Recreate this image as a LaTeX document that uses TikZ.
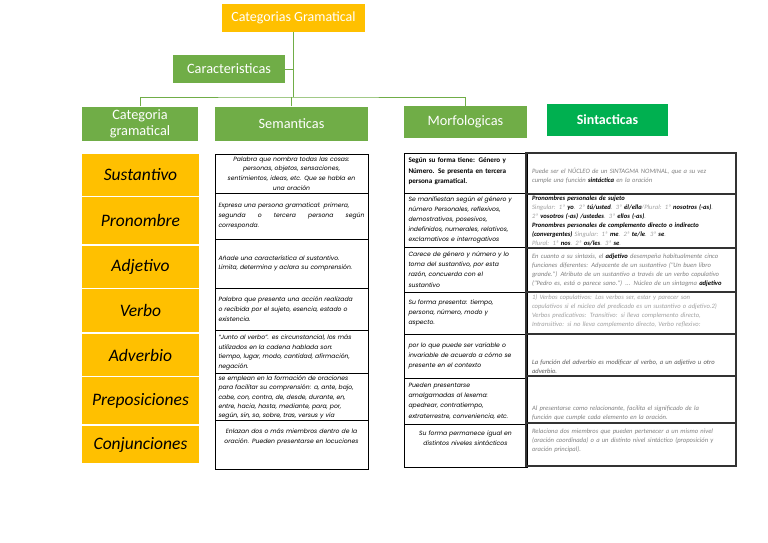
\documentclass[tikz,border=0pt]{standalone}
\usepackage{fontspec}
\setmainfont{Carlito}
\newfontfamily\cellfont{Poppins}
\usepackage{xcolor}
\usepackage{tikz}
\usetikzlibrary{positioning}
\definecolor{catorange}{RGB}{255,192,0}
\definecolor{catgreen}{RGB}{112,173,71}
\definecolor{sintgreen}{RGB}{0,176,80}
\definecolor{sintgray}{RGB}{128,128,128}
\definecolor{palegray}{RGB}{160,160,160}
\definecolor{deepgray}{RGB}{89,89,89}
\newcommand{\sinbold}[1]{\textcolor{black}{\textbf{#1}}}

\begin{document}
\begin{tikzpicture}[
  x=1pt, y=-1pt,
  titlebox/.style={rectangle, fill=catorange, text=white, inner sep=0pt,
    font=\fontsize{14}{16}\selectfont},
  headbox/.style={rectangle, fill=catgreen, text=white, inner sep=0pt, align=center,
    font=\fontsize{14.3}{16}\selectfont},
  catbox/.style={rectangle, fill=catorange, minimum width=117pt, inner sep=0pt,
    font=\fontsize{17.5}{20}\selectfont\itshape},
  semcell/.style={rectangle, draw=black, line width=1pt, minimum width=153pt, inner sep=0pt},
  morcell/.style={rectangle, draw=black, line width=1pt, minimum width=123pt, inner sep=0pt},
  sincell/.style={rectangle, draw=black!80, line width=1.1pt, minimum width=210pt, inner sep=0pt},
  semtext/.style={text width=146pt, inner sep=0pt, align=left,
    font=\cellfont\itshape\fontsize{6.1}{9.7}\selectfont},
  mortext/.style={text width=114pt, inner sep=0pt, align=left,
    font=\cellfont\itshape\fontsize{6.1}{10.2}\selectfont},
  sintext/.style={text width=198pt, inner sep=0pt, align=left, text=sintgray,
    font=\itshape\fontsize{6.6}{8.9}\selectfont},
  link/.style={draw=catgreen, line width=0.9pt}
]
\useasboundingbox (0,0) rectangle (768,543);
\fill[white] (0,0) rectangle (768,543);

% top of the tree
\node[titlebox, minimum width=143pt, minimum height=28pt] (cat) at (293.5,18) {Categorias Gramatical};
\node[headbox, minimum width=112pt, minimum height=27pt] (carac) at (229,69) {Caracteristicas};
\coordinate (bar) at (294,97);

\node[headbox, minimum width=116pt, minimum height=34pt] (catg) at (140,123.5) {Categoria\\gramatical};
\node[headbox, minimum width=153pt, minimum height=34pt] (sem) at (291.5,123.5) {Semanticas};
\node[headbox, minimum width=123pt, minimum height=32pt] (morf) at (465.5,122) {Morfologicas};
\node[headbox, fill=sintgreen, minimum width=121pt, minimum height=32pt,
  font=\fontsize{14}{16}\selectfont\bfseries] (sint) at (607.5,120) {Sintacticas};

\draw[link] (cat.south) -- (cat.south |- bar);
\draw[link] (carac.east) -- (carac.east -| cat.south);
\draw[link] (catg.north) |- (bar) -| (morf.north);
\draw[link] (sem.north) -- (sem.north |- bar);

% categories
\node[catbox, minimum height=42pt] (sus) at (140.5,175) {Sustantivo};
\node[catbox, minimum height=47pt] (pron) at (140.5,220.5) {Pronombre};
\node[catbox, minimum height=42pt] (adj) at (140.5,267) {Adjetivo};
\node[catbox, minimum height=43pt] (verb) at (140.5,310.5) {Verbo};
\node[catbox, minimum height=42pt] (adv) at (140.5,355) {Adverbio};
\node[catbox, minimum height=47pt] (prep) at (140.5,400.5) {Preposiciones};
\node[catbox, minimum height=37pt] (conj) at (140.5,444.5) {Conjunciones};

% semanticas
\node[semcell, minimum height=39pt] (sem1) at (291.5,173.5) {};
\node[semcell, minimum height=46pt] (sem2) at (291.5,216) {};
\node[semcell, minimum height=49pt] (sem3) at (291.5,263.5) {};
\node[semcell, minimum height=42pt] (sem4) at (291.5,309) {};
\node[semcell, minimum height=43pt] (sem5) at (291.5,351.5) {};
\node[semcell, minimum height=47pt] (sem6) at (291.5,396.5) {};
\node[semcell, minimum height=49pt] (sem7) at (291.5,444.5) {};

\node[semtext, align=center] (semt1) at (sem1) {Palabra que nombra todas las cosas:\\personas, objetos, sensaciones,\\sentimientos, ideas, etc. Que se habla en\\una oración};
\node[semtext] (semt2) at (sem2) {Expresa una persona gramatical: primera,\\segunda \hfill o \hfill tercera \hfill persona \hfill según\\corresponda.};
\node[semtext] (semt3) at (sem3) {Añade una característica al sustantivo.\\Limita, determina y aclara su comprensión.};
\node[semtext] (semt4) at (sem4) {Palabra que presenta una acción realizada\\o recibida por el sujeto, esencia, estado o\\existencia.};
\node[semtext] (semt5) at ([yshift=-1pt]sem5.center) {“Junto al verbo”. es circunstancial, los más\\utilizados en la cadena hablada son:\\tiempo, lugar, modo, cantidad, afirmación,\\negación.};
\node[semtext, font=\cellfont\itshape\fontsize{6.1}{9.2}\selectfont] (semt6) at ([yshift=-1pt]sem6.center) {se emplean en la formación de oraciones\\para facilitar su comprensión: a, ante, bajo,\\cabe, con, contra, de, desde, durante, en,\\entre, hacia, hasta, mediante, para, por,\\según, sin, so, sobre, tras, versus y vía};
\node[semtext, align=center, anchor=north] (semt7) at ([yshift=-9pt]sem7.north) {Enlazan dos o más miembros dentro de la\\oración. Pueden presentarse en locuciones};

% morfologicas
\node[morcell, minimum height=40pt] (mor1) at (465.5,173) {};
\node[morcell, minimum height=54pt] (mor2) at (465.5,220) {};
\node[morcell, minimum height=45pt] (mor3) at (465.5,269.5) {};
\node[morcell, minimum height=42pt] (mor4) at (465.5,313) {};
\node[morcell, minimum height=44pt] (mor5) at (465.5,356) {};
\node[morcell, minimum height=46pt] (mor6) at (465.5,401) {};
\node[morcell, minimum height=43pt] (mor7) at (465.5,445.5) {};

\node[mortext, font=\bfseries\fontsize{7.1}{10.4}\selectfont, anchor=north] (mort1) at ([yshift=-5pt]mor1.north) {Según su forma tiene: Género y\\Número. Se presenta en tercera\\persona gramatical.};
\node[mortext] (mort2) at (mor2) {Se manifiestan según el género y\\número Personales, reflexivos,\\demostrativos, posesivos,\\indefinidos, numerales, relativos,\\exclamativos e interrogativos};
\node[mortext] (mort3) at (mor3) {Carece de género y número y lo\\toma del sustantivo, por esta\\razón, concuerda con el\\sustantivo};
\node[mortext] (mort4) at (mor4) {Su forma presenta: tiempo,\\persona, número, modo y\\aspecto.};
\node[mortext] (mort5) at (mor5) {por lo que puede ser variable o\\invariable de acuerdo a cómo se\\presente en el contexto};
\node[mortext] (mort6) at (mor6) {Pueden presentarse\\amalgamadas al lexema:\\apedrear, contratiempo,\\extraterrestre, conveniencia, etc.};
\node[mortext, align=center, anchor=north] (mort7) at ([yshift=-7pt]mor7.north) {Su forma permanece igual en\\distintos niveles sintácticos};

% sintacticas
\node[sincell, minimum height=41pt] (sin1) at (631,173.5) {};
\node[sincell, minimum height=54pt] (sin2) at (631,221) {};
\node[sincell, minimum height=44pt] (sin3) at (631,270) {};
\node[sincell, minimum height=42pt] (sin4) at (631,313) {};
\node[sincell, minimum height=42pt] (sin5) at (631,355) {};
\node[sincell, minimum height=47pt] (sin6) at (631,399.5) {};
\node[sincell, minimum height=43pt] (sin7) at (631,444.5) {};

\node[sintext] (sint1) at ([yshift=-2pt]sin1.center) {Puede ser el NÚCLEO de un SINTAGMA NOMINAL, que a su vez\\cumple una función \sinbold{sintáctica} en la oración};
\node[sintext, text=palegray] (sint2) at (sin2) {\sinbold{Pronombres personales de sujeto}\\Singular: 1ª \sinbold{yo}. 2ª \sinbold{tú/usted}. 3ª \sinbold{él/ella}/Plural: 1ª \sinbold{nosotros (-as)}.\\2ª \sinbold{vosotros (-as) /ustedes}. 3ª \sinbold{ellos (-as)}.\\\sinbold{Pronombres personales de complemento directo o indirecto}\\\sinbold{(convergentes)} Singular: 1ª \sinbold{me}. 2ª \sinbold{te/le}. 3ª \sinbold{se}.\\Plural: 1ª \sinbold{nos}. 2ª \sinbold{os/les}. 3ª \sinbold{se}.};
\node[sintext] (sint3) at (sin3) {En cuanto a su sintaxis, el \sinbold{adjetivo} desempeña habitualmente cinco\\funciones diferentes: Adyacente de un sustantivo (\textquotedbl Un buen libro\\grande.\textquotedbl) Atributo de un sustantivo a través de un verbo copulativo\\(\textquotedbl Pedro es, está o parece sano.\textquotedbl) ... Núcleo de un sintagma \sinbold{adjetivo}};
\node[sintext, text=palegray, anchor=north] (sint4) at ([yshift=-3pt]sin4.north) {1) Verbos copulativos: Los verbos ser, estar y parecer son\\copulativos si el núcleo del predicado es un sustantivo o adjetivo.2)\\Verbos predicativos: Transitivo: si lleva complemento directo,\\Intransitivo: si no lleva complemento directo, Verbo reflexivo:};
\node[sintext, text=deepgray, anchor=south] (sint5) at ([yshift=3pt]sin5.south) {La función del adverbio es modificar al verbo, a un adjetivo u otro\\adverbio.};
\node[sintext, anchor=south] (sint6) at ([yshift=3pt]sin6.south) {Al presentarse como relacionante, facilita el significado de la\\función que cumple cada elemento en la oración.};
\node[sintext, anchor=north] (sint7) at ([yshift=-6pt]sin7.north) {Relaciona dos miembros que pueden pertenecer a un mismo nivel\\(oración coordinada) o a un distinto nivel sintáctico (proposición y\\oración principal).};
\end{tikzpicture}
\end{document}
